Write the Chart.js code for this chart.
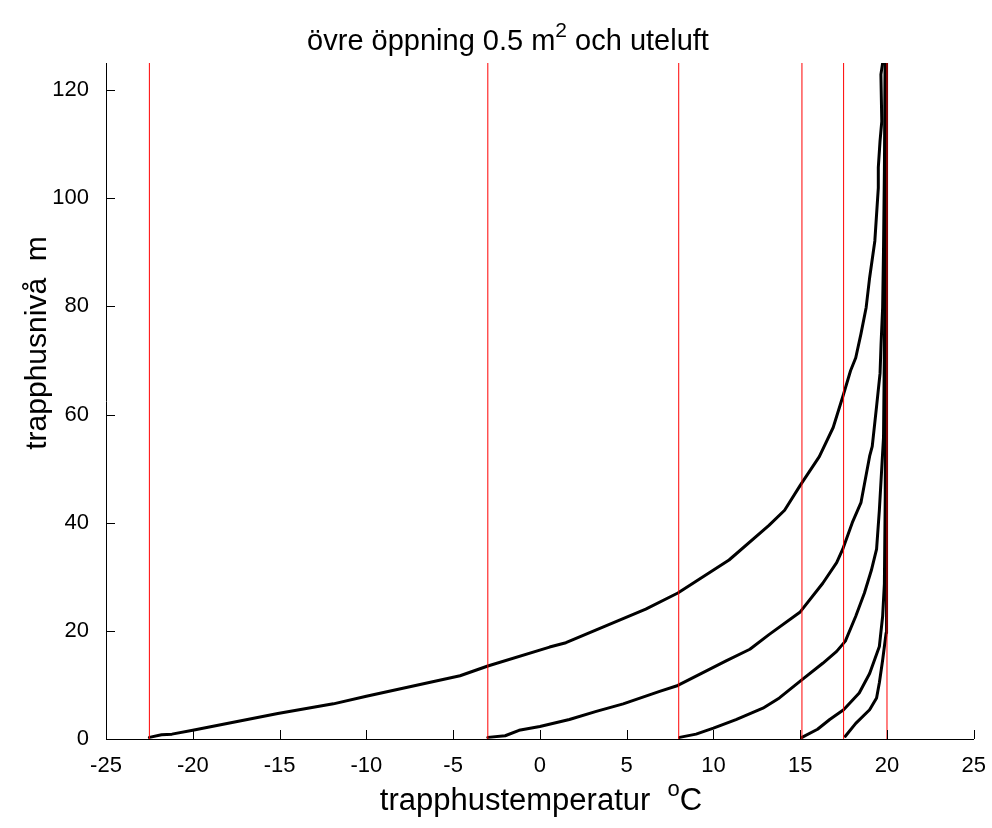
<!DOCTYPE html>
<html>
<head>
<meta charset="utf-8">
<script src="https://cdn.jsdelivr.net/npm/chart.js@4"></script>
<style>
  html, body { margin: 0; padding: 0; background: #ffffff; }
  #wrap { width: 992px; height: 828px; }
</style>
</head>
<body>
<div id="wrap"><canvas id="c" width="992" height="828"></canvas></div>
<script>
// ---- data (temperature in °C, height in m) ----
const outdoorTemps = [-22.5, -3, 8, 15.1, 17.5, 20];

const curve1T = [-22.5, -21.8, -21.2, -20.0, -15.1, -11.9, -10.0, -4.6, -3.0, 0.56, 1.5, 3.25, 6.1, 7.95, 10.9, 13.2, 14.1, 15.0, 16.1, 16.9, 17.5, 17.9, 18.2, 18.5, 18.8, 19.0, 19.3, 19.5, 19.5, 19.6, 19.7, 19.65, 19.75];
const curve1H = [0.3, 0.8, 0.9, 1.6, 4.7, 6.5, 7.9, 11.7, 13.5, 17.0, 17.8, 20.2, 24.0, 27.0, 33.1, 39.5, 42.3, 46.9, 52.2, 57.6, 63.8, 68.1, 70.5, 74.9, 79.8, 85.3, 92.1, 101.9, 105.7, 110.6, 114.2, 122.9, 125];

const curve2T = [-3.0, -2.0, -1.2, 0.0, 1.7, 3.25, 4.8, 6.9, 7.95, 10.7, 12.1, 13.2, 15.0, 16.3, 17.1, 17.45, 18.0, 18.5, 19.0, 19.15, 19.4, 19.6, 19.66, 19.75, 19.8, 19.85, 19.9];
const curve2H = [0.3, 0.6, 1.6, 2.3, 3.6, 5.1, 6.5, 8.8, 9.9, 14.4, 16.6, 19.3, 23.5, 28.8, 32.6, 35.1, 40.0, 43.7, 52.3, 54.1, 61.5, 67.6, 73.1, 79.8, 90.4, 105, 125];

const curve3T = [8.05, 9.0, 10.0, 11.3, 12.85, 13.8, 15.0, 16.3, 17.1, 17.6, 18.2, 18.7, 19.1, 19.4, 19.56, 19.8, 19.85, 19.9, 19.9];
const curve3H = [0.3, 0.9, 2.0, 3.6, 5.7, 7.6, 10.7, 14.0, 16.2, 18.1, 22.7, 27.0, 31.2, 35.1, 42.3, 55.8, 71.8, 90, 125];

const curve4T = [15.1, 16.0, 16.7, 17.5, 18.4, 19.0, 19.56, 19.75, 19.85, 19.9, 19.95];
const curve4H = [0.3, 1.8, 3.6, 5.4, 8.5, 12.1, 17.1, 22.7, 28.7, 45, 125];

const curve5T = [17.6, 18.2, 19.0, 19.4, 19.56, 19.75, 19.95, 19.95, 20.0];
const curve5H = [0.5, 2.9, 5.4, 7.6, 10.4, 14.6, 19.6, 40, 125];

const xTicks = [-25, -20, -15, -10, -5, 0, 5, 10, 15, 20, 25];
const yTicks = [0, 20, 40, 60, 80, 100, 120];

const titleMain = 'övre öppning 0.5 m';
const titleSup = '2';
const titleRest = ' och uteluft';
const xTitleMain = 'trapphustemperatur  ';
const xTitleSup = 'o';
const xTitleRest = 'C';
const yTitle = 'trapphusnivå  m';

// ---- build datasets ----
function pts(ts, hs) { return ts.map((t, i) => ({ x: t, y: hs[i] })); }
const curves = [[curve1T, curve1H], [curve2T, curve2H], [curve3T, curve3H], [curve4T, curve4H], [curve5T, curve5H]];

const datasets = [];
outdoorTemps.forEach(t => {
  datasets.push({
    data: [{ x: t, y: 0 }, { x: t, y: 125 }],
    borderColor: '#ff0000', borderWidth: 1, showLine: true, pointRadius: 0, order: 0
  });
});
curves.forEach(c => {
  datasets.push({
    data: pts(c[0], c[1]),
    borderColor: '#000000', borderWidth: 3, showLine: true, pointRadius: 0,
    tension: 0, order: 1, borderJoinStyle: 'round', borderCapStyle: 'round'
  });
});

const FONT = 'Liberation Sans, Arial, sans-serif';

const decor = {
  id: 'decor',
  afterDraw(chart) {
    const ctx = chart.ctx;
    const xs = chart.scales.x, ys = chart.scales.y;
    const a = chart.chartArea;
    ctx.save();
    // inward tick marks
    ctx.strokeStyle = '#000'; ctx.lineWidth = 1;
    ctx.beginPath();
    xTicks.forEach(v => {
      const px = Math.round(xs.getPixelForValue(v)) + 0.5;
      ctx.moveTo(px, a.bottom); ctx.lineTo(px, a.bottom - 9);
    });
    yTicks.forEach(v => {
      const py = Math.round(ys.getPixelForValue(v)) + 0.5;
      ctx.moveTo(a.left, py); ctx.lineTo(a.left + 9, py);
    });
    ctx.stroke();

    ctx.fillStyle = '#000';
    ctx.textBaseline = 'alphabetic';
    function supText(main, sup, rest, cx, baseY, size) {
      ctx.font = size + 'px ' + FONT;
      const w1 = ctx.measureText(main).width;
      const w3 = ctx.measureText(rest).width;
      ctx.font = Math.round(size * 0.72) + 'px ' + FONT;
      const w2 = ctx.measureText(sup).width;
      const total = w1 + w2 + w3;
      let x = cx - total / 2;
      ctx.textAlign = 'left';
      ctx.font = size + 'px ' + FONT;
      ctx.fillText(main, x, baseY);
      x += w1;
      ctx.font = Math.round(size * 0.72) + 'px ' + FONT;
      ctx.fillText(sup, x, baseY - size * 0.45);
      x += w2;
      ctx.font = size + 'px ' + FONT;
      ctx.fillText(rest, x, baseY);
    }
    supText(titleMain, titleSup, titleRest, 508, 50, 29);
    supText(xTitleMain, xTitleSup, xTitleRest, 541, 810, 31);

    ctx.save();
    ctx.translate(46, 343);
    ctx.rotate(-Math.PI / 2);
    ctx.font = '30px ' + FONT;
    ctx.textAlign = 'center';
    ctx.fillText(yTitle, 0, 0);
    ctx.restore();
    ctx.restore();
  }
};

new Chart(document.getElementById('c'), {
  type: 'scatter',
  data: { datasets },
  plugins: [decor],
  options: {
    responsive: false,
    animation: false,
    layout: { padding: { left: 0, top: 63, right: 18, bottom: 0 } },
    plugins: { legend: { display: false }, tooltip: { enabled: false }, title: { display: false } },
    scales: {
      x: {
        type: 'linear', min: -25, max: 25,
        afterBuildTicks: s => { s.ticks = xTicks.map(v => ({ value: v })); },
        afterFit: s => { s.height = 89; },
        grid: { display: false },
        border: { display: true, color: '#000', width: 1 },
        ticks: { color: '#000', font: { family: FONT, size: 22 }, padding: 6, maxRotation: 0, autoSkip: false }
      },
      y: {
        type: 'linear', min: 0, max: 125,
        afterBuildTicks: s => { s.ticks = yTicks.map(v => ({ value: v })); },
        afterFit: s => { s.width = 106; },
        grid: { display: false },
        border: { display: true, color: '#000', width: 1 },
        ticks: { color: '#000', font: { family: FONT, size: 22 }, padding: 9, autoSkip: false }
      }
    }
  }
});
</script>
</body>
</html>
